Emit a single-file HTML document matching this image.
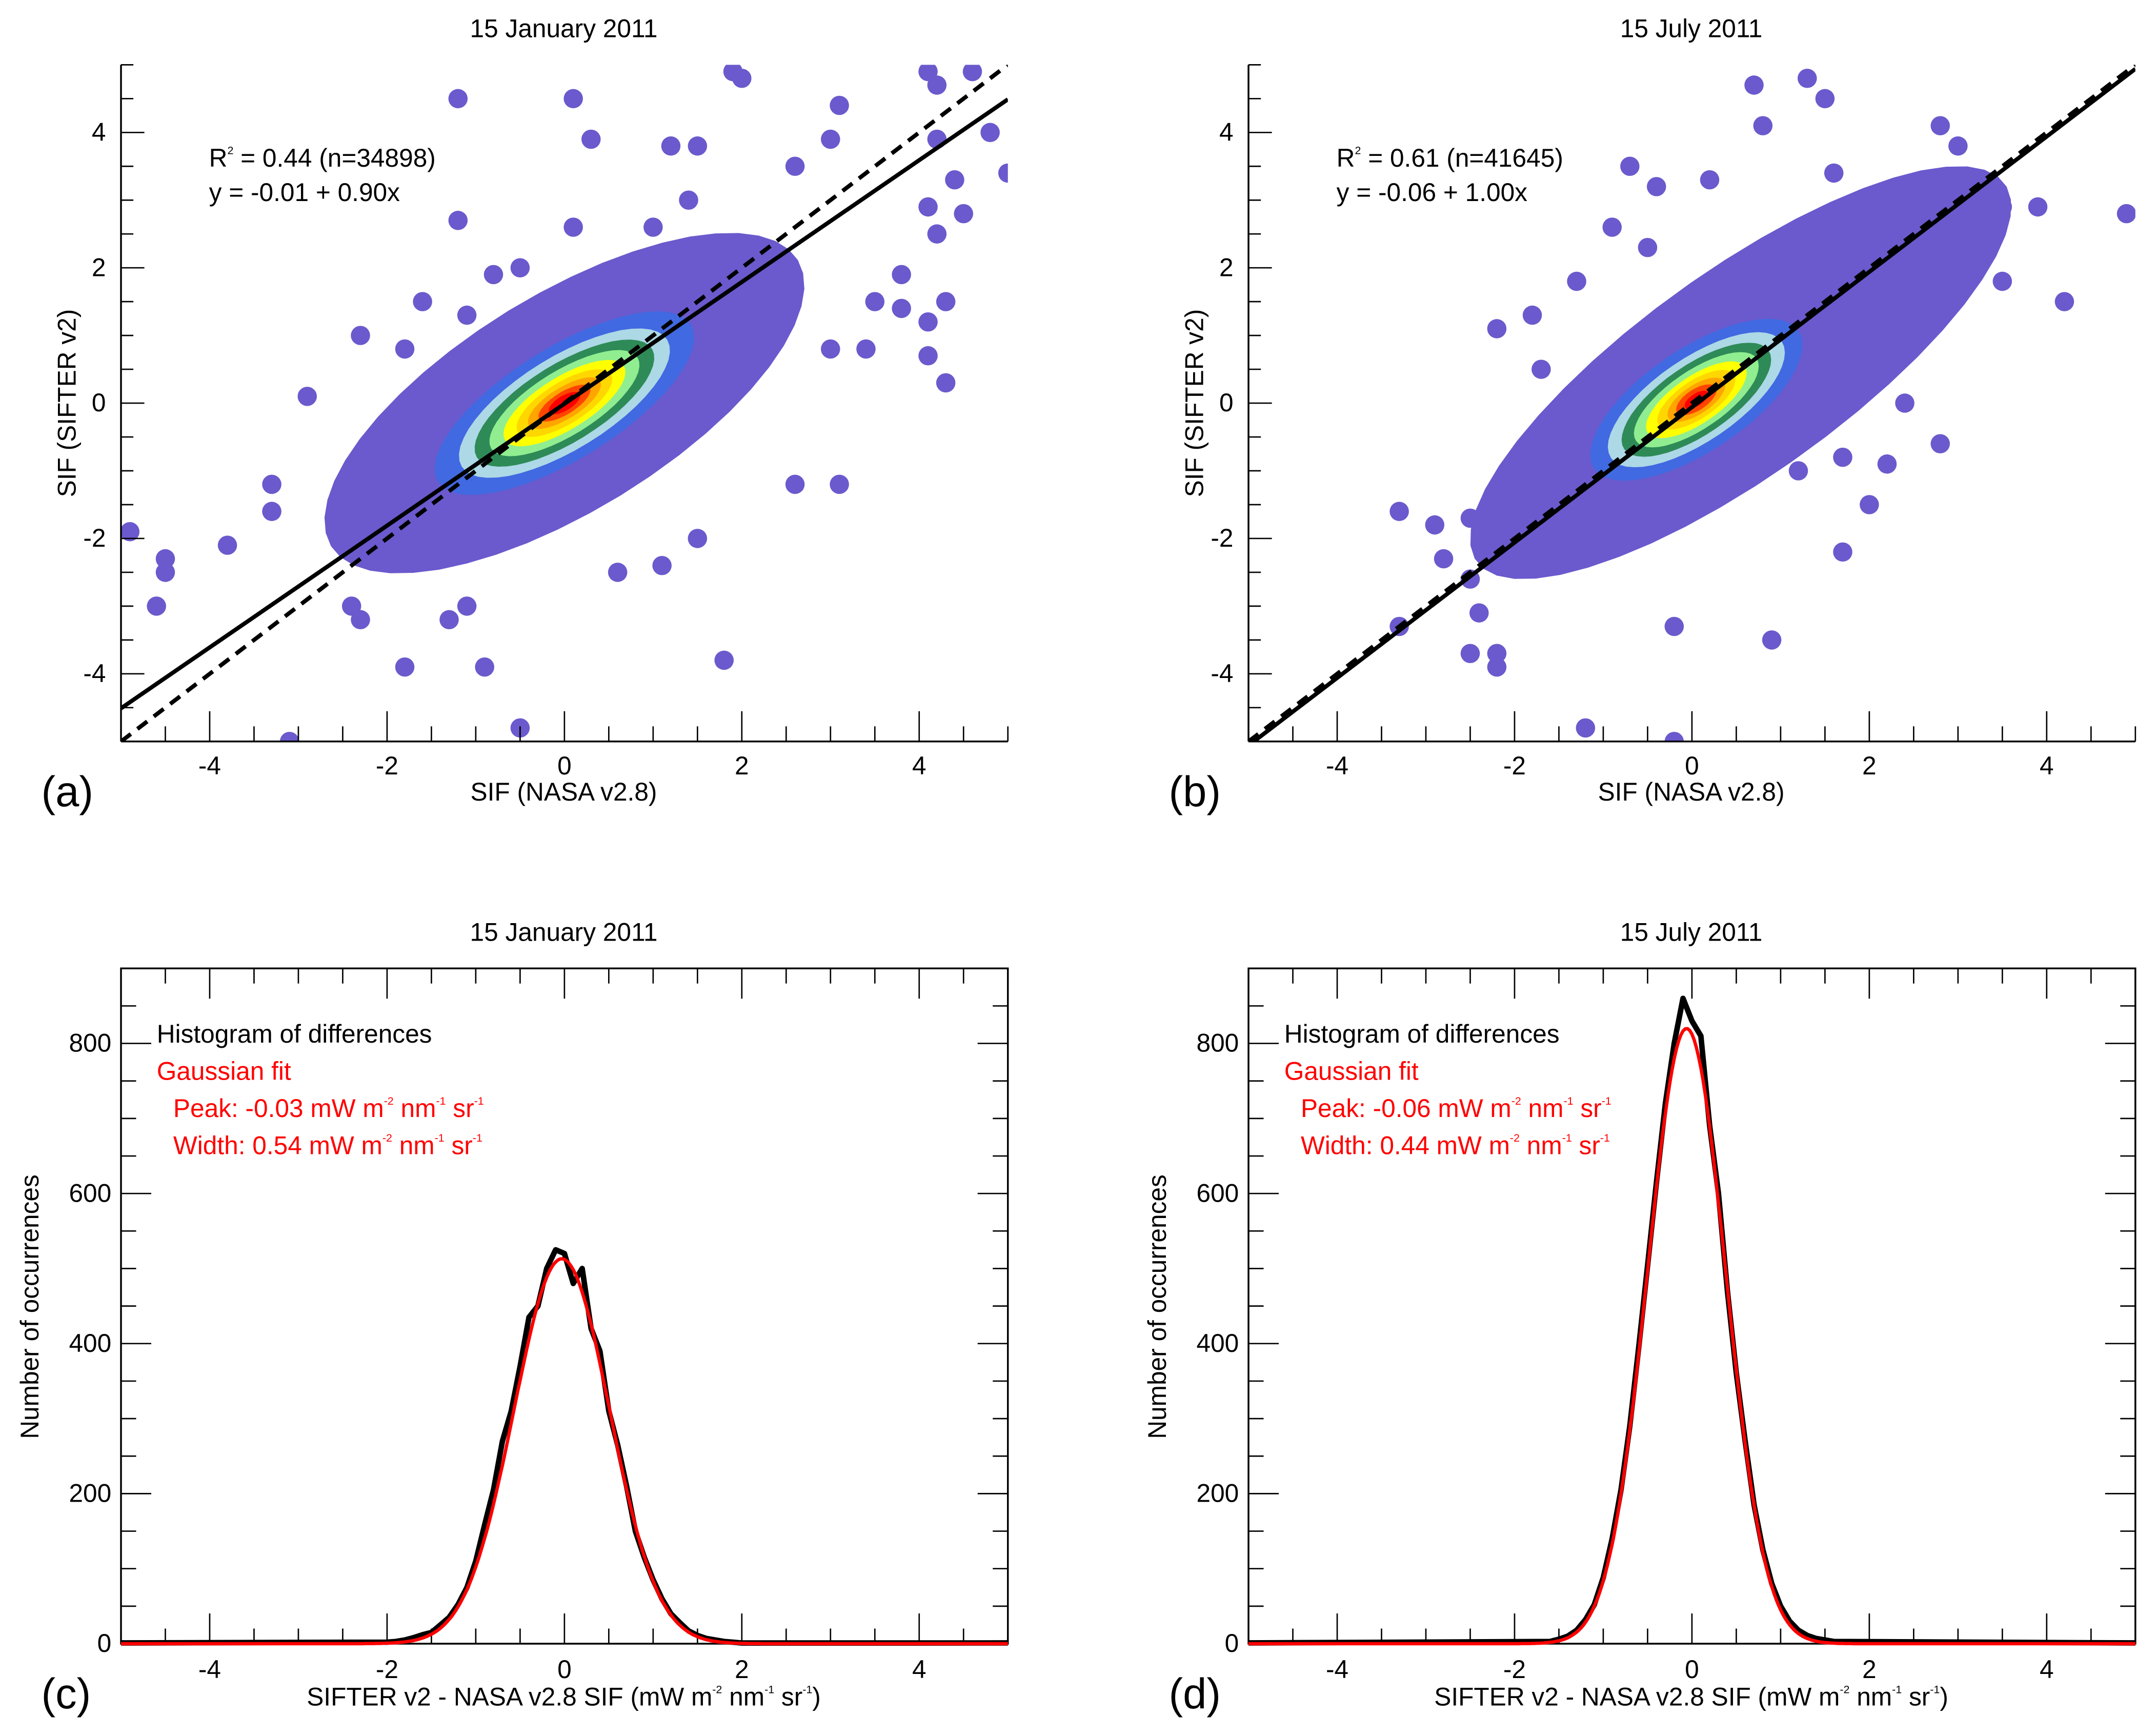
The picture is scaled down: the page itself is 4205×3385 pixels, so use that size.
<!DOCTYPE html>
<html><head><meta charset="utf-8"><style>
html,body{margin:0;padding:0;background:#fff;}
svg{display:block;}
text{font-family:"Liberation Sans",sans-serif;fill:#000;}
</style></head><body>
<svg id="fig" xmlns="http://www.w3.org/2000/svg" width="4205" height="3385" viewBox="0 0 1568 1262">
<rect width="1568" height="1262" fill="#fff"/>
</svg>
<script>
// ---------- data ----------
const ptsA_x = [-4.9,-4.5,-4.5,-4.6,-3.8,-3.3,-3.3,-2.9,-3.1,-2.3,-2.4,-1.8,-0.9,-0.5,-1.1,-1.3,1.8,0.6,1.1,1.5,2.6,3.1,-2.3,-1.8,-1.6,-1.2,-1.2,-1.1,-0.8,-0.5,0.1,0.3,0.1,1.2,1.5,2.0,1.9,3.1,2.6,3.0,4.2,4.1,4.6,4.8,5.0,4.2,4.4,4.2,4.1,4.5,3.8,4.1,4.3,4.1,4.3,3.5,3.4,3.8,3.0,1.4,1.0];
const ptsA_y = [-1.9,-2.3,-2.5,-3.0,-2.1,-1.2,-1.6,0.1,-5.0,-3.2,-3.0,-3.9,-3.9,-4.8,-3.0,-3.2,-3.8,-2.5,-2.4,-2.0,-1.2,-1.2,1.0,0.8,1.5,2.7,4.5,1.3,1.9,2.0,4.5,3.9,2.6,3.8,3.8,4.8,4.9,4.4,3.5,3.9,4.7,4.9,4.9,4.0,3.4,3.9,3.3,2.5,2.9,2.8,1.9,1.2,1.5,0.7,0.3,1.5,0.8,1.4,0.8,3.0,2.6];
const ptsB_x = [-3.3,-3.3,-2.9,-2.8,-2.5,-2.5,-2.5,-2.2,-2.2,-2.2,-2.4,-1.2,-0.2,0.9,-0.2,1.7,2.0,1.8,1.6,0.7,1.3,0.8,1.5,2.8,3.0,-0.9,-0.4,-0.7,0.2,4.9,4.2,3.5,3.5,3.9,2.8,2.2,2.4,1.7,1.2,-1.7,-1.8,-1.3,-0.5];
const ptsB_y = [-1.6,-3.3,-1.8,-2.3,-1.7,-2.6,-3.7,1.1,-3.7,-3.9,-3.1,-4.8,-5.0,-3.5,-3.3,-0.8,-1.5,0.7,3.4,4.7,4.8,4.1,4.5,4.1,3.8,2.6,3.2,3.5,3.3,2.8,1.5,1.8,2.9,2.9,-0.6,-0.9,0.0,-2.2,-1.0,0.5,1.3,1.8,2.3];
const levelColors = ["#6a5acd","#4169e1","#add8e6","#2e8b57","#90ee90","#ffff00","#ffd700","#ffa500","#ff4500","#ff0000"];
const levelsA_a = [3.4,1.85,1.5,1.28,1.07,0.87,0.68,0.52,0.37,0.22];
const levelsA_b = [1.45,0.75,0.62,0.52,0.43,0.35,0.28,0.21,0.15,0.1];
const levelsB_a = [4.1,1.55,1.3,1.1,0.92,0.74,0.57,0.42,0.29,0.17];
const levelsB_b = [1.35,0.68,0.55,0.46,0.38,0.31,0.25,0.19,0.14,0.08];
const centerA = [0.0,0.0], centerB = [0.05,0.05], cloudCenterB = [0.55,0.45];
const fitA = [-0.01,0.90], fitB = [-0.06,1.00];
const statsA = ["0.44","34898"], statsB = ["0.61","41645"];
const histX_c = [-2.0,-1.9,-1.8,-1.7,-1.6,-1.5,-1.4,-1.3,-1.2,-1.1,-1.0,-0.9,-0.8,-0.7,-0.6,-0.5,-0.4,-0.3,-0.2,-0.1,0.0,0.1,0.2,0.3,0.4,0.5,0.6,0.7,0.8,0.9,1.0,1.1,1.2,1.3,1.4,1.5,1.6,1.7,1.8,1.9,2.0];
const histY_c = [2,3,5,8,12,15,25,35,52,75,110,158,205,270,310,370,435,450,500,525,520,480,500,420,390,310,265,210,150,115,85,60,40,28,17,11,7,5,3,2,1];
const histX_d = [-1.6,-1.5,-1.4,-1.3,-1.2,-1.1,-1.0,-0.9,-0.8,-0.7,-0.6,-0.5,-0.4,-0.3,-0.2,-0.1,0.0,0.1,0.2,0.3,0.4,0.5,0.6,0.7,0.8,0.9,1.0,1.1,1.2,1.3,1.4,1.5,1.6];
const histY_d = [3,6,10,18,32,52,88,140,205,290,395,505,615,720,800,860,830,810,690,600,470,360,270,185,125,80,50,30,18,11,7,5,3];
const gaussC = [513,-0.03,0.54], gaussD = [820,-0.06,0.44];
const xTicks = [-4,-2,0,2,4], yTicksS = [-4,-2,0,2,4], yTicksH = [0,200,400,600,800];

const NS="http://www.w3.org/2000/svg";
const svg=document.getElementById('fig');
const FS=18.5;
function mk(tag,attrs,parent){const e=document.createElementNS(NS,tag);for(const k in attrs)e.setAttribute(k,attrs[k]);(parent||svg).appendChild(e);return e;}

function scatterPanel(ox,ptsX,ptsY,la,lb,ctr,cloudCtr,fit,stats,title,letter){
  const L=ox, R=ox+645, T=47, B=539;
  const sx=v=>L+(v+5)/10*(R-L), sy=v=>B-(v+5)/10*(B-T);
  const g=mk('g',{});
  
  
  const clipId='clip'+letter;
  const cp=mk('clipPath',{id:clipId},g); mk('rect',{x:L,y:T,width:R-L,height:B-T},cp);
  const pg=mk('g',{'clip-path':'url(#'+clipId+')'},g);
  const ang=Math.atan(fit[1]);
  for(let i=0;i<levelColors.length;i++){
    const c=i===0?cloudCtr:ctr; let d='';
    for(let k=0;k<48;k++){const t=k/48*2*Math.PI;
      const u=la[i]*Math.cos(t), v=lb[i]*Math.sin(t);
      const xx=c[0]+u*Math.cos(ang)-v*Math.sin(ang), yy=c[1]+u*Math.sin(ang)+v*Math.cos(ang);
      d+=(k?'L':'M')+sx(xx).toFixed(1)+','+sy(yy).toFixed(1);}
    const p=mk('path',{d:d+'Z',fill:levelColors[i]},pg);
    
    
  }
  for(let i=0;i<ptsX.length;i++){
    const c=mk('circle',{cx:sx(ptsX[i]),cy:sy(ptsY[i]),r:7,fill:levelColors[0]},pg);
    
    
  }
  const l1=mk('line',{x1:sx(-5),y1:sy(fit[0]-5*fit[1]),x2:sx(5),y2:sy(fit[0]+5*fit[1]),stroke:'#000','stroke-width':3},pg);
  
  
  const l2=mk('line',{x1:sx(-5),y1:sy(-5),x2:sx(5),y2:sy(5),stroke:'#000','stroke-width':3,'stroke-dasharray':'9,6'},pg);
  
  
  mk('line',{x1:L,y1:T,x2:L,y2:B,stroke:'#000','stroke-width':1.3},g);
  mk('line',{x1:L,y1:B,x2:R,y2:B,stroke:'#000','stroke-width':1.3},g);
  for(let v=-5;v<=5.001;v+=0.5){
    const maj=Math.abs(v%2)<1e-6; const len=maj?22:11;
    mk('line',{x1:sx(v),y1:B,x2:sx(v),y2:B-len,stroke:'#000','stroke-width':1},g);
    mk('line',{x1:L,y1:sy(v),x2:L+(maj?17:9),y2:sy(v),stroke:'#000','stroke-width':1},g);
  }
  xTicks.forEach(v=>{const t=mk('text',{x:sx(v),y:563,'font-size':FS,'text-anchor':'middle'},g);t.textContent=v;
    });
  yTicksS.forEach(v=>{const t=mk('text',{x:L-11,y:sy(v)+6,'font-size':FS,'text-anchor':'end'},g);t.textContent=v;
    });
  let t=mk('text',{x:L+322,y:27,'font-size':FS,'text-anchor':'middle'},g);t.textContent=title;
  
  t=mk('text',{x:L+322,y:582,'font-size':FS,'text-anchor':'middle'},g);t.textContent='SIF (NASA v2.8)';
  
  t=mk('text',{x:L-33,y:293,'font-size':FS,'text-anchor':'middle',transform:'rotate(-90 '+(L-33)+' 293)'},g);t.textContent='SIF (SIFTER v2)';
  
  t=mk('text',{x:L-58,y:586,'font-size':31},g);t.textContent='('+letter+')';
  
  t=mk('text',{x:L+64,y:121,'font-size':FS},g);
  t.innerHTML='R<tspan font-size="8" dy="-9">2</tspan><tspan dy="9"> = '+stats[0]+' (n='+stats[1]+')</tspan>';
  
  t=mk('text',{x:L+64,y:146,'font-size':FS},g);
  t.textContent='y = '+fit[0].toFixed(2)+' + '+fit[1].toFixed(2)+'x';
  
}

function histPanel(ox,hx,hy,gs,title,letter){
  const L=ox, R=ox+645, T=704, B=1195;
  const sx=v=>L+(v+5)/10*(R-L), sy=v=>B-v/900*(B-T);
  const g=mk('g',{});
  
  
  mk('rect',{x:L,y:T,width:R-L,height:B-T,fill:'none',stroke:'#000','stroke-width':1.3},g);
  for(let v=-5;v<=5.001;v+=0.5){
    const maj=Math.abs(v%2)<1e-6; const len=maj?22:11;
    mk('line',{x1:sx(v),y1:B,x2:sx(v),y2:B-len,stroke:'#000','stroke-width':1},g);
    mk('line',{x1:sx(v),y1:T,x2:sx(v),y2:T+len,stroke:'#000','stroke-width':1},g);
  }
  for(let v=0;v<=900;v+=50){
    const maj=v%200===0; const len=maj?22:11;
    mk('line',{x1:L,y1:sy(v),x2:L+len,y2:sy(v),stroke:'#000','stroke-width':1},g);
    mk('line',{x1:R,y1:sy(v),x2:R-len,y2:sy(v),stroke:'#000','stroke-width':1},g);
  }
  let d='M'+sx(-5)+','+sy(1);
  for(let i=0;i<hx.length;i++) d+='L'+sx(hx[i]).toFixed(1)+','+sy(hy[i]).toFixed(1);
  d+='L'+sx(5)+','+sy(1);
  const hp=mk('path',{d:d,fill:'none',stroke:'#000','stroke-width':4,'stroke-linejoin':'round'},g);
  
  
  let gd='';
  for(let k=0;k<=400;k++){const x=-5+k*10/400;const y=gs[0]*Math.exp(-Math.pow(x-gs[1],2)/(2*gs[2]*gs[2]));
    gd+=(k?'L':'M')+sx(x).toFixed(1)+','+sy(y).toFixed(1);}
  const gp=mk('path',{d:gd,fill:'none',stroke:'#ff0000','stroke-width':2.4},g);
  
  
  xTicks.forEach(v=>{const t=mk('text',{x:sx(v),y:1220,'font-size':FS,'text-anchor':'middle'},g);t.textContent=v;
    });
  yTicksH.forEach(v=>{const t=mk('text',{x:L-7,y:sy(v)+6,'font-size':FS,'text-anchor':'end'},g);t.textContent=v;
    });
  let t=mk('text',{x:L+322,y:684,'font-size':FS,'text-anchor':'middle'},g);t.textContent=title;
  
  t=mk('text',{x:L+322,y:1240,'font-size':FS,'text-anchor':'middle'},g);
  t.innerHTML='SIFTER v2 - NASA v2.8 SIF (mW m<tspan font-size="8" dy="-9">-2</tspan><tspan dy="9"> nm</tspan><tspan font-size="8" dy="-9">-1</tspan><tspan dy="9"> sr</tspan><tspan font-size="8" dy="-9">-1</tspan><tspan dy="9">)</tspan>';
  
  t=mk('text',{x:L-60,y:950,'font-size':FS,'text-anchor':'middle',transform:'rotate(-90 '+(L-60)+' 950)'},g);t.textContent='Number of occurrences';
  
  t=mk('text',{x:L-58,y:1242,'font-size':31},g);t.textContent='('+letter+')';
  
  t=mk('text',{x:L+26,y:758,'font-size':FS},g);t.textContent='Histogram of differences';
  
  t=mk('text',{x:L+26,y:785,'font-size':FS},g);t.textContent='Gaussian fit';t.style.fill='#ff0000';
  
  const units=' mW m<tspan font-size="8" dy="-9">-2</tspan><tspan dy="9"> nm</tspan><tspan font-size="8" dy="-9">-1</tspan><tspan dy="9"> sr</tspan><tspan font-size="8" dy="-9">-1</tspan>';
  t=mk('text',{x:L+38,y:812,'font-size':FS},g);t.style.fill='#ff0000';
  t.innerHTML='Peak: '+gs[1].toFixed(2)+units;
  
  t=mk('text',{x:L+38,y:839,'font-size':FS},g);t.style.fill='#ff0000';
  t.innerHTML='Width: '+gs[2].toFixed(2)+units;
  
}

scatterPanel(88,ptsA_x,ptsA_y,levelsA_a,levelsA_b,centerA,centerA,fitA,statsA,'15 January 2011','a');
scatterPanel(908,ptsB_x,ptsB_y,levelsB_a,levelsB_b,centerB,cloudCenterB,fitB,statsB,'15 July 2011','b');
histPanel(88,histX_c,histY_c,gaussC,'15 January 2011','c');
histPanel(908,histX_d,histY_d,gaussD,'15 July 2011','d');
</script>
</body></html>
